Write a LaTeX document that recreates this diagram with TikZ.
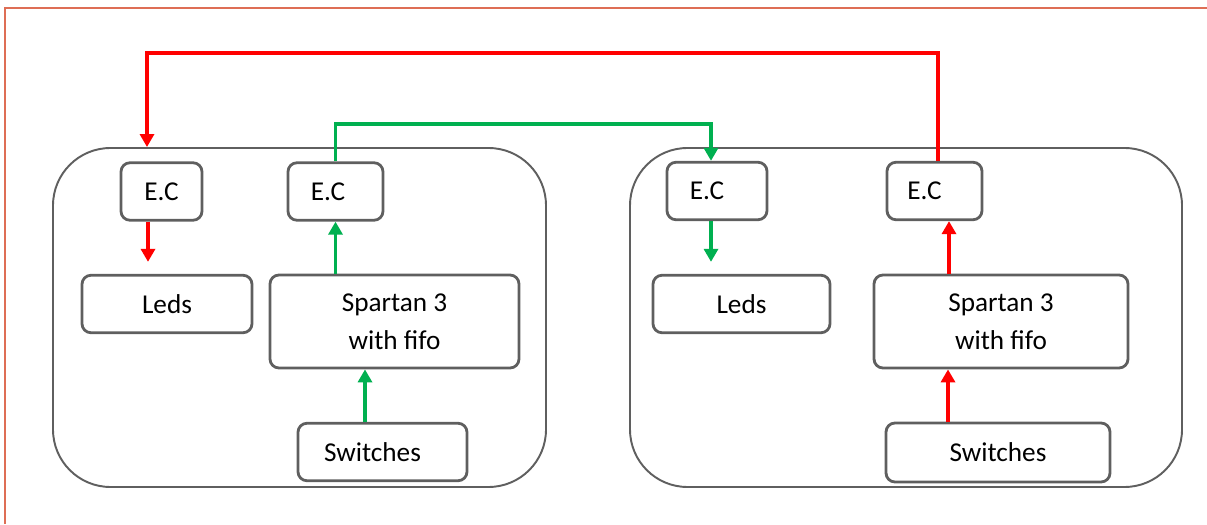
\documentclass[tikz,border=0pt]{standalone}
\usepackage{fontspec}
\setmainfont{Carlito}
\usepackage{tikz}
\usepackage{xcolor}
\usetikzlibrary{arrows.meta, positioning, calc}
\definecolor{cFrame}{RGB}{222,110,85}
\definecolor{cRed}{RGB}{255,0,0}
\definecolor{cGreen}{RGB}{0,176,80}
\definecolor{cBorder}{RGB}{95,95,95}
\tikzset{
	boardbox/.style={rectangle, rounded corners=1.15cm, draw=cBorder, line width=1.1pt},
	unitbox/.style ={rectangle, rounded corners=0.18cm, draw=cBorder, line width=1.6pt, minimum height=1.15cm, text centered, align=center, font=\fontsize{15.5}{21.5}\selectfont},
	ecbox/.style   ={unitbox, minimum width=1.9cm},
	redflow/.style  ={-{Triangle[width=0.28cm, length=0.26cm]}, line width=2pt, draw=cRed},
	greenflow/.style={-{Triangle[width=0.28cm, length=0.26cm]}, line width=2pt, draw=cGreen},
}
\begin{document}
\begin{tikzpicture}
		\useasboundingbox (0,0) rectangle (24.14,10.48);
		\draw[cFrame, line width=1.1pt] (0.1,0) -- (0.1,10.32) -- (24.14,10.32);
		% the two boards
		\node[boardbox, minimum width=9.86cm, minimum height=6.78cm] (boardL) at (5.99,4.13) {};
		\node[boardbox, minimum width=11.04cm, minimum height=6.78cm] (boardR) at (18.12,4.13) {};
		% left board
		\node[ecbox, minimum width=1.62cm] (ecL1) at (3.23,6.65) {E.C};
		\node[ecbox] (ecL2) at (6.71,6.65) {E.C\hspace{0.3cm}};
		\node[unitbox, minimum width=3.4cm] (ledsL) at (3.34,4.40) {Leds};
		\node[unitbox, minimum width=4.98cm, minimum height=1.86cm] (spartanL) at (7.89,4.05) {Spartan 3\\with fifo};
		\node[unitbox, minimum width=3.38cm] (switchL) at (7.65,1.44) {Switches\hspace{0.4cm}};
		% right board
		\node[ecbox, minimum width=2.0cm] (ecR1) at (14.34,6.66) {E.C\hspace{0.4cm}};
		\node[ecbox] (ecR2) at (18.69,6.66) {E.C\hspace{0.4cm}};
		\node[unitbox, minimum width=3.54cm] (ledsR) at (14.83,4.40) {Leds};
		\node[unitbox, minimum width=5.08cm, minimum height=1.86cm] (spartanR) at (20.02,4.05) {Spartan 3\\with fifo};
		\node[unitbox, minimum width=4.48cm, minimum height=1.18cm] (switchR) at (19.96,1.43) {Switches};
		% links between the boards
		\coordinate (redtop) at (2.94,9.42);
		\coordinate (greentop) at (14.22,8.0);
		\draw[redflow] ([xshift=0.07cm]ecR2.north) |- (redtop) -- (redtop |- boardL.north);
		\draw[greenflow] (ecL2.north) |- (greentop) -- (greentop |- ecR1.north);
		% inside the boards
		\draw[redflow, shorten >=0.24cm] ([xshift=-0.27cm]ecL1.south) -- ([xshift=-0.27cm]ecL1.south |- ledsL.north);
		\draw[greenflow, shorten >=0.24cm] ([xshift=-0.12cm]ecR1.south) -- ([xshift=-0.12cm]ecR1.south |- ledsR.north);
		\draw[greenflow] (ecL2.south |- spartanL.north) -- (ecL2.south);
		\draw[greenflow] ([xshift=-0.35cm]switchL.north) -- ([xshift=-0.35cm]switchL.north |- spartanL.south);
		\draw[redflow] ([xshift=0.29cm]ecR2.south |- spartanR.north) -- ([xshift=0.29cm]ecR2.south);
		\draw[redflow] ([xshift=-1.0cm]switchR.north) -- ([xshift=-1.0cm]switchR.north |- spartanR.south);
	\end{tikzpicture}
\end{document}
